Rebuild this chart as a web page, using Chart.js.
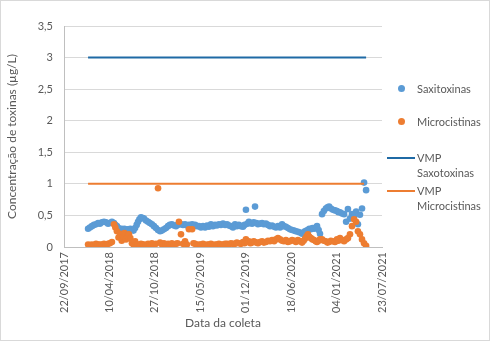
<!DOCTYPE html>
<html>
<head>
<meta charset="utf-8">
<script src="https://cdn.jsdelivr.net/npm/chart.js@4"></script>
<style>
  body { margin: 0; background: #fff; }
  #wrap { position: relative; width: 490px; height: 341px; box-sizing: border-box; border: 1px solid #d9d9d9; }
  canvas { position: absolute; left: 0; top: 0; }
  .lg { position: absolute; font-family: Lato, sans-serif; font-size: 11px; color: #595959; line-height: 15px; }
  .dot { position: absolute; width: 7px; height: 7px; border-radius: 50%; }
  .bar { position: absolute; height: 2px; width: 28px; }
</style>
</head>
<body>
<div id="wrap">
  <canvas id="chart" width="490" height="341"></canvas>
  <div class="dot" style="left:397px;top:84px;background:#5B9BD5"></div>
  <div class="lg" style="left:416px;top:80px">Saxitoxinas</div>
  <div class="dot" style="left:397px;top:117px;background:#ED7D31"></div>
  <div class="lg" style="left:416px;top:113px">Microcistinas</div>
  <div class="bar" style="left:386px;top:156px;background:#1F6AA5"></div>
  <div class="lg" style="left:416px;top:149px">VMP<br>Saxotoxinas</div>
  <div class="bar" style="left:386px;top:189px;background:#ED7D31"></div>
  <div class="lg" style="left:416px;top:182px">VMP<br>Microcistinas</div>
</div>
<script>
// collection dates as Excel serial numbers (43000 = 22/09/2017)
const sampleDates = [
  43106, 43114, 43123, 43132, 43141, 43150, 43158, 43167, 43176, 43185,
  43194, 43202, 43211, 43220, 43226, 43233, 43240, 43247, 43254, 43260,
  43266, 43273, 43280, 43286, 43292, 43299, 43306, 43313, 43320, 43326,
  43332, 43339, 43346, 43352, 43361, 43370, 43378, 43387, 43396, 43405,
  43414, 43423, 43431, 43440, 43449, 43458, 43466, 43475, 43484, 43493,
  43500, 43506, 43515, 43524, 43533, 43541, 43550, 43564, 43570, 43577,
  43586, 43594, 43603, 43612, 43621, 43630, 43638, 43647, 43656, 43665,
  43673, 43682, 43691, 43700, 43709, 43718, 43726, 43735, 43744, 43753,
  43761, 43770, 43779, 43788, 43795, 43801, 43808, 43814, 43821, 43828,
  43835, 43841, 43847, 43854, 43863, 43872, 43880, 43889, 43898, 43907,
  43916, 43925, 43933, 43942, 43951, 43960, 43968, 43977, 43986, 43995,
  44004, 44013, 44021, 44030, 44039, 44048, 44055, 44061, 44068, 44074,
  44080, 44087, 44094, 44101, 44108, 44114, 44121, 44127, 44136, 44144,
  44153, 44160, 44167, 44175, 44184, 44193, 44202, 44208, 44215, 44224,
  44233, 44242, 44250, 44259, 44268, 44277, 44286, 44294, 44303, 44312,
  44321, 44330
];
const saxitoxinas = [
  0.29, 0.31, 0.33, 0.35, 0.36, 0.38, 0.37, 0.39, 0.40, 0.39,
  0.37, 0.38, 0.40, 0.38, 0.35, 0.33, 0.30, 0.28, 0.29, 0.27,
  0.29, 0.26, 0.28, 0.27, 0.29, 0.27, 0.26, 0.30, 0.35, 0.40,
  0.44, 0.47, 0.46, 0.45, 0.42, 0.40, 0.38, 0.36, 0.33, 0.30,
  0.27, 0.25, 0.26, 0.28, 0.30, 0.33, 0.35, 0.36, 0.34, 0.33,
  0.35, 0.36, 0.36, 0.35, 0.36, 0.34, 0.35, 0.36, 0.34, 0.35,
  0.33, 0.33, 0.31, 0.33, 0.31, 0.34, 0.32, 0.36, 0.33, 0.35,
  0.34, 0.36, 0.35, 0.37, 0.35, 0.36, 0.34, 0.33, 0.31, 0.36,
  0.33, 0.35, 0.33, 0.32, 0.35, 0.59, 0.37, 0.40, 0.38, 0.37,
  0.39, 0.64, 0.38, 0.36, 0.37, 0.38, 0.36, 0.37, 0.35, 0.33,
  0.34, 0.32, 0.31, 0.33, 0.31, 0.36, 0.33, 0.32, 0.30, 0.28,
  0.27, 0.26, 0.25, 0.24, 0.23, 0.21, 0.23, 0.25, 0.26, 0.27,
  0.29, 0.28, 0.30, 0.29, 0.31, 0.33, 0.27, 0.21, 0.52, 0.57,
  0.61, 0.63, 0.64, 0.61, 0.59, 0.58, 0.57, 0.55, 0.55, 0.53,
  0.52, 0.40, 0.60, 0.45, 0.52, 0.48, 0.56, 0.36, 0.51, 0.61,
  1.02, 0.90
];
const microcistinas = [
  0.04, 0.03, 0.04, 0.03, 0.05, 0.04, 0.04, 0.04, 0.05, 0.03,
  0.05, 0.06, 0.08, 0.36, 0.31, 0.25, 0.15, 0.21, 0.10, 0.17,
  0.22, 0.12, 0.17, 0.20, 0.14, 0.06, 0.04, 0.09, 0.03, 0.04,
  0.03, 0.05, 0.04, 0.04, 0.03, 0.05, 0.04, 0.06, 0.04, 0.05,
  0.93, 0.07, 0.04, 0.06, 0.04, 0.05, 0.04, 0.06, 0.03, 0.05,
  0.06, 0.40, 0.20, 0.05, 0.09, 0.04, 0.28, 0.28, 0.06, 0.05,
  0.03, 0.04, 0.04, 0.05, 0.03, 0.04, 0.04, 0.05, 0.03, 0.04,
  0.04, 0.05, 0.04, 0.04, 0.05, 0.05, 0.04, 0.06, 0.05, 0.05,
  0.07, 0.06, 0.05, 0.08, 0.06, 0.12, 0.08, 0.09, 0.06, 0.07,
  0.09, 0.08, 0.07, 0.06, 0.08, 0.09, 0.07, 0.08, 0.10, 0.09,
  0.11, 0.09, 0.12, 0.14, 0.12, 0.10, 0.09, 0.11, 0.08, 0.09,
  0.11, 0.10, 0.08, 0.11, 0.09, 0.07, 0.10, 0.13, 0.17, 0.20,
  0.16, 0.14, 0.12, 0.11, 0.09, 0.08, 0.10, 0.12, 0.12, 0.10,
  0.09, 0.07, 0.08, 0.10, 0.09, 0.08, 0.12, 0.10, 0.14, 0.11,
  0.09, 0.12, 0.14, 0.20, 0.33, 0.44, 0.40, 0.25, 0.20, 0.12,
  0.06, 0.02
];
const vmpSaxitoxinas = 3;
const vmpMicrocistinas = 1;
const xTickStart = 43000;
const xTickEnd = 44400;
const xTickStep = 200;

const toPoints = (xs, ys) => xs.map((x, i) => ({ x: x, y: ys[i] }));
const first = sampleDates[0];
const last = sampleDates[sampleDates.length - 1];

function serialToText(v) {
  const d = new Date(Date.UTC(1899, 11, 30) + v * 86400000);
  const dd = String(d.getUTCDate()).padStart(2, '0');
  const mm = String(d.getUTCMonth() + 1).padStart(2, '0');
  return dd + '/' + mm + '/' + d.getUTCFullYear();
}

Chart.defaults.font.family = 'Lato, sans-serif';
Chart.defaults.color = '#595959';

new Chart(document.getElementById('chart'), {
  type: 'scatter',
  data: {
    datasets: [
      {
        label: 'Saxitoxinas',
        data: toPoints(sampleDates, saxitoxinas),
        backgroundColor: '#5B9BD5',
        borderWidth: 0,
        pointRadius: 3.3,
        order: 3
      },
      {
        label: 'Microcistinas',
        data: toPoints(sampleDates, microcistinas),
        backgroundColor: '#ED7D31',
        borderWidth: 0,
        pointRadius: 3.3,
        order: 2
      },
      {
        label: 'VMP Saxotoxinas',
        data: [{ x: first, y: vmpSaxitoxinas }, { x: last, y: vmpSaxitoxinas }],
        showLine: true,
        borderColor: '#1F6AA5',
        borderWidth: 2,
        pointRadius: 0,
        order: 1
      },
      {
        label: 'VMP Microcistinas',
        data: [{ x: first, y: vmpMicrocistinas }, { x: sampleDates[sampleDates.length - 2], y: vmpMicrocistinas }],
        showLine: true,
        borderColor: '#ED7D31',
        borderWidth: 2,
        pointRadius: 0,
        order: 1
      }
    ]
  },
  options: {
    responsive: false,
    animation: false,
    layout: { padding: { top: 25, right: 109, left: 0, bottom: 8 } },
    plugins: { legend: { display: false }, tooltip: { enabled: false } },
    scales: {
      x: {
        type: 'linear',
        min: xTickStart,
        max: xTickEnd,
        ticks: {
          stepSize: xTickStep,
          minRotation: 90,
          maxRotation: 90,
          font: { size: 11 },
          padding: 5,
          callback: (v) => serialToText(v)
        },
        grid: { display: false, drawTicks: false },
        border: { color: '#bfbfbf' },
        title: { display: true, text: 'Data da coleta', font: { size: 12 }, padding: { top: 2 } },
        afterFit: (s) => { s.height = 87; }
      },
      y: {
        min: 0,
        max: 3.5,
        ticks: {
          stepSize: 0.5,
          font: { size: 11 },
          padding: 11,
          callback: (v) => String(v).replace('.', ',')
        },
        grid: { color: '#d9d9d9', drawTicks: false },
        border: { color: '#bfbfbf' },
        title: { display: true, text: 'Concentração de toxinas (µg/L)', font: { size: 12 }, padding: { bottom: 4 } },
        afterFit: (s) => { s.width = 63; }
      }
    }
  }
});
</script>
</body>
</html>
